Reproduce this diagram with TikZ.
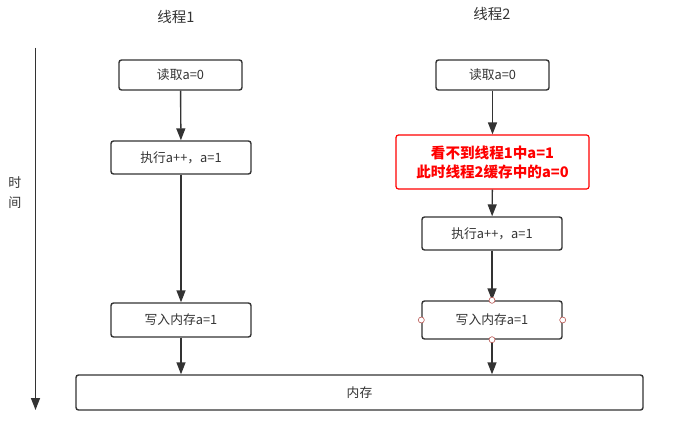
\documentclass[tikz,border=0pt]{standalone}
\usepackage{fontspec}
\newfontfamily\cjk{Noto Sans CJK SC}
\usetikzlibrary{arrows.meta,positioning}
\definecolor{ink}{HTML}{333333}
\definecolor{alarm}{HTML}{FF0000}
\definecolor{handle}{HTML}{B85450}

\begin{document}
\begin{tikzpicture}[x=1pt,y=-1pt,>={Triangle[length=12pt,width=9pt]},
  font=\cjk\fontsize{12.8}{15}\selectfont,
  box/.style={draw=ink,line width=1.4pt,rounded corners=2.5pt,text=ink,inner sep=0pt},
  alarmbox/.style={draw=alarm,line width=1.2pt,rounded corners=2.5pt,text=alarm,inner sep=0pt,
    align=center,font=\cjk\bfseries\fontsize{14.6}{19}\selectfont},
  flow/.style={->,draw=ink,fill=ink,line width=1.4pt},
  grip/.style={circle,draw=handle,fill=white,line width=0.6pt,inner sep=0pt,minimum size=6pt}]
  \useasboundingbox (0,0) rectangle (676,422);
  % headers
  \node[text=ink,font=\cjk\fontsize{14.5}{17}\selectfont] (hdA) at (176,17) {线程1};
  \node[text=ink,font=\cjk\fontsize{14.5}{17}\selectfont] (hdB) at (492,14) {线程2};
  % time axis
  \coordinate (tTop) at (35.5,48);
  \coordinate (tBot) at (35.5,410);
  \draw[flow] (tTop) -- (tBot);
  \node[text=ink,align=center,font=\cjk\fontsize{13}{20}\selectfont] (tLbl) at (15,193) {时\\间};
  % thread 1
  \node[box,minimum width=123pt,minimum height=30pt] (rdA) at (180.5,75) {读取a=0};
  \node[box,minimum width=140pt,minimum height=33pt] (exA) at (181,157.5) {执行a++，a=1};
  \node[box,minimum width=140pt,minimum height=34pt] (wrA) at (181,320) {写入内存a=1};
  % thread 2
  \node[box,minimum width=113pt,minimum height=30pt] (rdB) at (492.5,75) {读取a=0};
  \node[alarmbox,minimum width=193pt,minimum height=54pt] (seeB) at (492.5,162)
     {看不到线程1中a=1\\此时线程2缓存中的a=0};
  \node[box,minimum width=140pt,minimum height=33pt] (exB) at (492,233.5) {执行a++，a=1};
  \node[box,minimum width=140pt,minimum height=38pt] (wrB) at (492,320) {写入内存a=1};
  % memory
  \node[box,minimum width=567pt,minimum height=35pt] (mem) at (359.5,392.5) {内存};
  % connectors
  \draw[flow] (rdA) -- (exA);
  \draw[flow] (exA) -- (wrA);
  \draw[flow] (wrA) -- (wrA|-mem.north);
  \draw[flow] (rdB) -- (seeB);
  \draw[flow] (seeB) -- (exB);
  \draw[flow] (exB) -- (wrB);
  \draw[flow] (wrB) -- (wrB|-mem.north);
  % selection handles
  \foreach \side in {north,south,east,west}
    \node[grip] (g\side) at (wrB.\side) {};
\end{tikzpicture}
\end{document}
